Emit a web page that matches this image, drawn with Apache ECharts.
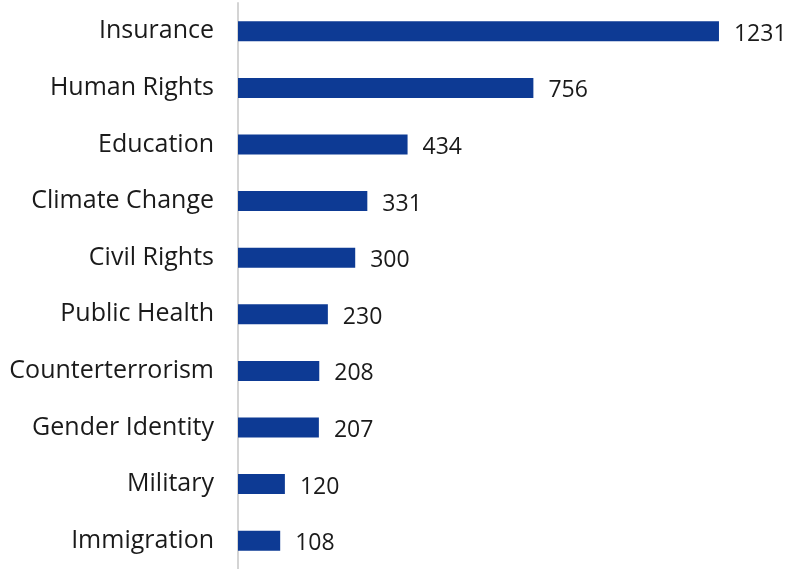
<!DOCTYPE html>
<html lang="en">
<head>
    <meta charset="UTF-8">
    <title>Topics</title>
    <script src="https://cdn.jsdelivr.net/npm/echarts@6/dist/echarts.min.js"></script>
    <style>
        html, body { margin: 0; padding: 0; background: #fff; }
        #chart { width: 788px; height: 569px; }
    </style>
</head>
<body>
    <div id="chart"></div>
    <script>
    // top to bottom as in the picture
    var categories = ['Insurance', 'Human Rights', 'Education', 'Climate Change', 'Civil Rights',
        'Public Health', 'Counterterrorism', 'Gender Identity', 'Military', 'Immigration'];
    var counts = [1231, 756, 434, 331, 300, 230, 208, 207, 120, 108];

    var chart = echarts.init(document.getElementById('chart'));
    var option = {
        animation: false,
        grid: { left: 238, right: 3, top: 3, bottom: 0, containLabel: false },
        xAxis: {
            type: 'value',
            min: 0,
            max: 1400,
            show: false
        },
        yAxis: {
            type: 'category',
            inverse: true,
            data: categories,
            axisLine: { show: true, lineStyle: { color: '#d4d4d4', width: 2 } },
            axisTick: { show: false },
            axisLabel: {
                margin: 24,
                color: '#1a1a1a',
                fontFamily: 'Open Sans',
                fontSize: 25
            }
        },
        series: [{
            type: 'bar',
            data: counts,
            barWidth: 20,
            itemStyle: { color: '#0d3a94' },
            label: {
                show: true,
                position: 'right',
                distance: 15,
                offset: [0, 3],
                color: '#1a1a1a',
                fontFamily: 'Open Sans',
                fontSize: 23
            }
        }]
    };
    chart.setOption(option);
    </script>
</body>
</html>
